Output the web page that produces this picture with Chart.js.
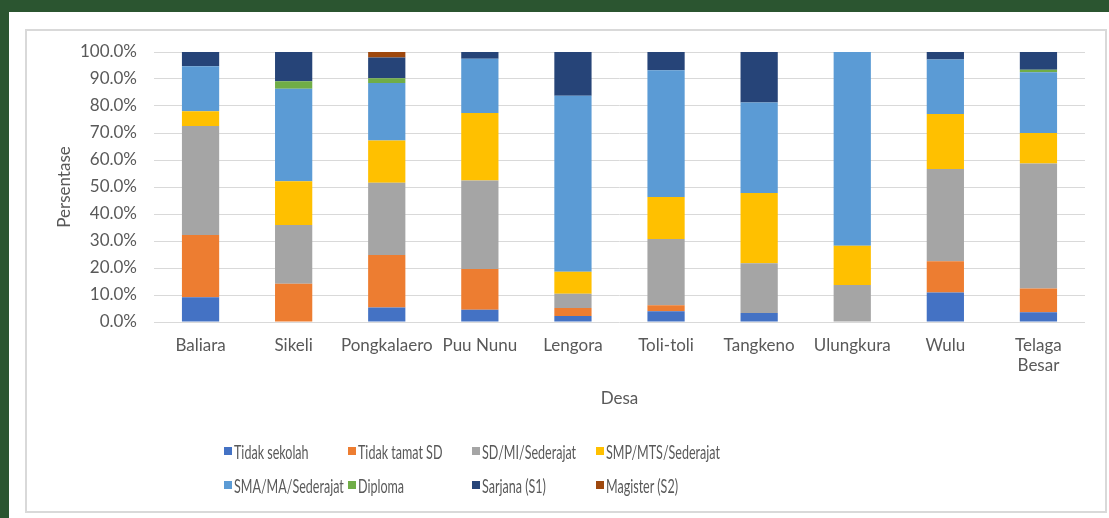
<!DOCTYPE html>
<html lang="id">
<head>
    <meta charset="UTF-8">
    <title>Tingkat Pendidikan per Desa</title>
    <script src="https://cdn.jsdelivr.net/npm/chart.js"></script>
    <style>
        body {
            margin: 0;
            width: 1109px;
            height: 518px;
            background-color: #2b5530;
            font-family: Lato, "Open Sans", sans-serif;
            overflow: hidden;
        }

        .panel {
            position: absolute;
            left: 9px;
            top: 12px;
            width: 1100px;
            height: 506px;
            background: #ffffff;
        }

        .frame {
            position: absolute;
            left: 25px;
            top: 29px;
            width: 1078px;
            height: 480px;
            border: 2px solid #d9d9d9;
        }

        #chart-box {
            position: absolute;
            left: 27px;
            top: 31px;
            width: 1078px;
            height: 480px;
        }

        #legend {
            position: absolute;
            left: 224px;
            top: 440px;
            display: grid;
            grid-template-columns: repeat(4, 124px);
            row-gap: 12px;
        }

        .item {
            display: flex;
            align-items: center;
            height: 22px;
            white-space: nowrap;
        }

        .box {
            width: 8px;
            height: 8px;
            margin-right: 2px;
            flex: none;
        }

        .item span {
            display: inline-block;
            color: #595959;
            font-size: 19px;
            transform: scaleX(0.66);
            transform-origin: left center;
        }
    </style>
</head>
<body>

<div class="panel"></div>
<div class="frame"></div>
<div id="chart-box">
    <canvas id="eduChart" width="1078" height="480"></canvas>
</div>
<div id="legend"></div>

<script>
    // Desa (categories)
    const desa = ['Baliara', 'Sikeli', 'Pongkalaero', 'Puu Nunu', 'Lengora', 'Toli-toli',
        'Tangkeno', 'Ulungkura', 'Wulu', ['Telaga', 'Besar']];

    // persentase per tingkat pendidikan
    const tidakSekolah  = [9.2, 0, 5.4, 4.5, 2.2, 4.0, 3.3, 0, 10.9, 3.6];
    const tidakTamatSD  = [23.0, 14.2, 19.4, 15.1, 3.0, 2.2, 0, 0, 11.6, 8.8];
    const sdSederajat   = [40.4, 21.7, 26.8, 32.8, 5.3, 24.5, 18.5, 13.7, 34.2, 46.3];
    const smpSederajat  = [5.5, 16.2, 15.6, 25.0, 8.1, 15.6, 26.0, 14.5, 20.3, 11.3];
    const smaSederajat  = [16.6, 34.3, 21.3, 20.1, 65.2, 46.9, 33.5, 71.8, 20.2, 22.5];
    const diploma       = [0, 2.8, 1.8, 0, 0, 0, 0, 0, 0, 0.9];
    const sarjana       = [5.3, 10.8, 7.7, 2.5, 16.2, 6.8, 18.7, 0, 2.8, 6.6];
    const magister      = [0, 0, 2.0, 0, 0, 0, 0, 0, 0, 0];

    const yTicks = [0, 10, 20, 30, 40, 50, 60, 70, 80, 90, 100];

    const series = [
        { label: 'Tidak sekolah', data: tidakSekolah, color: '#4472c4' },
        { label: 'Tidak tamat SD', data: tidakTamatSD, color: '#ed7d31' },
        { label: 'SD/MI/Sederajat', data: sdSederajat, color: '#a5a5a5' },
        { label: 'SMP/MTS/Sederajat', data: smpSederajat, color: '#ffc000' },
        { label: 'SMA/MA/Sederajat', data: smaSederajat, color: '#5b9bd5' },
        { label: 'Diploma', data: diploma, color: '#70ad47' },
        { label: 'Sarjana (S1)', data: sarjana, color: '#264478' },
        { label: 'Magister (S2)', data: magister, color: '#9e480e' }
    ];

    const textColor = '#595959';
    const font = { family: 'Lato, "Open Sans", sans-serif', size: 17 };

    const ctx = document.getElementById('eduChart').getContext('2d');
    const eduChart = new Chart(ctx, {
        type: 'bar',
        data: {
            labels: desa,
            datasets: series.map(s => ({
                label: s.label,
                data: s.data,
                backgroundColor: s.color,
                borderWidth: 0,
                barPercentage: 0.4,
                categoryPercentage: 1.0
            }))
        },
        options: {
            responsive: false,
            animation: false,
            layout: {
                padding: { left: 10, right: 20, top: 21, bottom: 89 }
            },
            plugins: {
                legend: { display: false },
                tooltip: { enabled: false }
            },
            scales: {
                x: {
                    stacked: true,
                    grid: { display: false, drawTicks: false },
                    border: { display: false },
                    ticks: { color: textColor, font: font, padding: 13, maxRotation: 0, autoSkip: false },
                    title: { display: true, text: 'Desa', color: textColor, font: font, padding: { top: 0, bottom: 13 } },
                    afterFit: function(scale) { scale.height = 100; }
                },
                y: {
                    stacked: true,
                    min: 0,
                    max: 100,
                    afterBuildTicks: function(scale) {
                        scale.ticks = yTicks.map(v => ({ value: v }));
                    },
                    grid: { color: '#d9d9d9', lineWidth: 1, drawTicks: false },
                    border: { display: false },
                    ticks: {
                        color: textColor,
                        font: font,
                        padding: 17,
                        callback: v => v.toFixed(1) + '%'
                    },
                    title: { display: true, text: 'Persentase', color: textColor, font: font, padding: { top: 17, bottom: 0 } },
                    afterFit: function(scale) {
                        scale.width = 117;
                        // keep the tick padding from pushing the plot down
                        scale.paddingTop = 0;
                        scale.paddingBottom = 0;
                    }
                }
            }
        }
    });

    // HTML legend, 4 columns
    const legendEl = document.getElementById('legend');
    series.forEach(s => {
        const item = document.createElement('div');
        item.className = 'item';
        item.innerHTML = '<div class="box" style="background:' + s.color + '"></div><span>' + s.label + '</span>';
        legendEl.appendChild(item);
    });
</script>

</body>
</html>
